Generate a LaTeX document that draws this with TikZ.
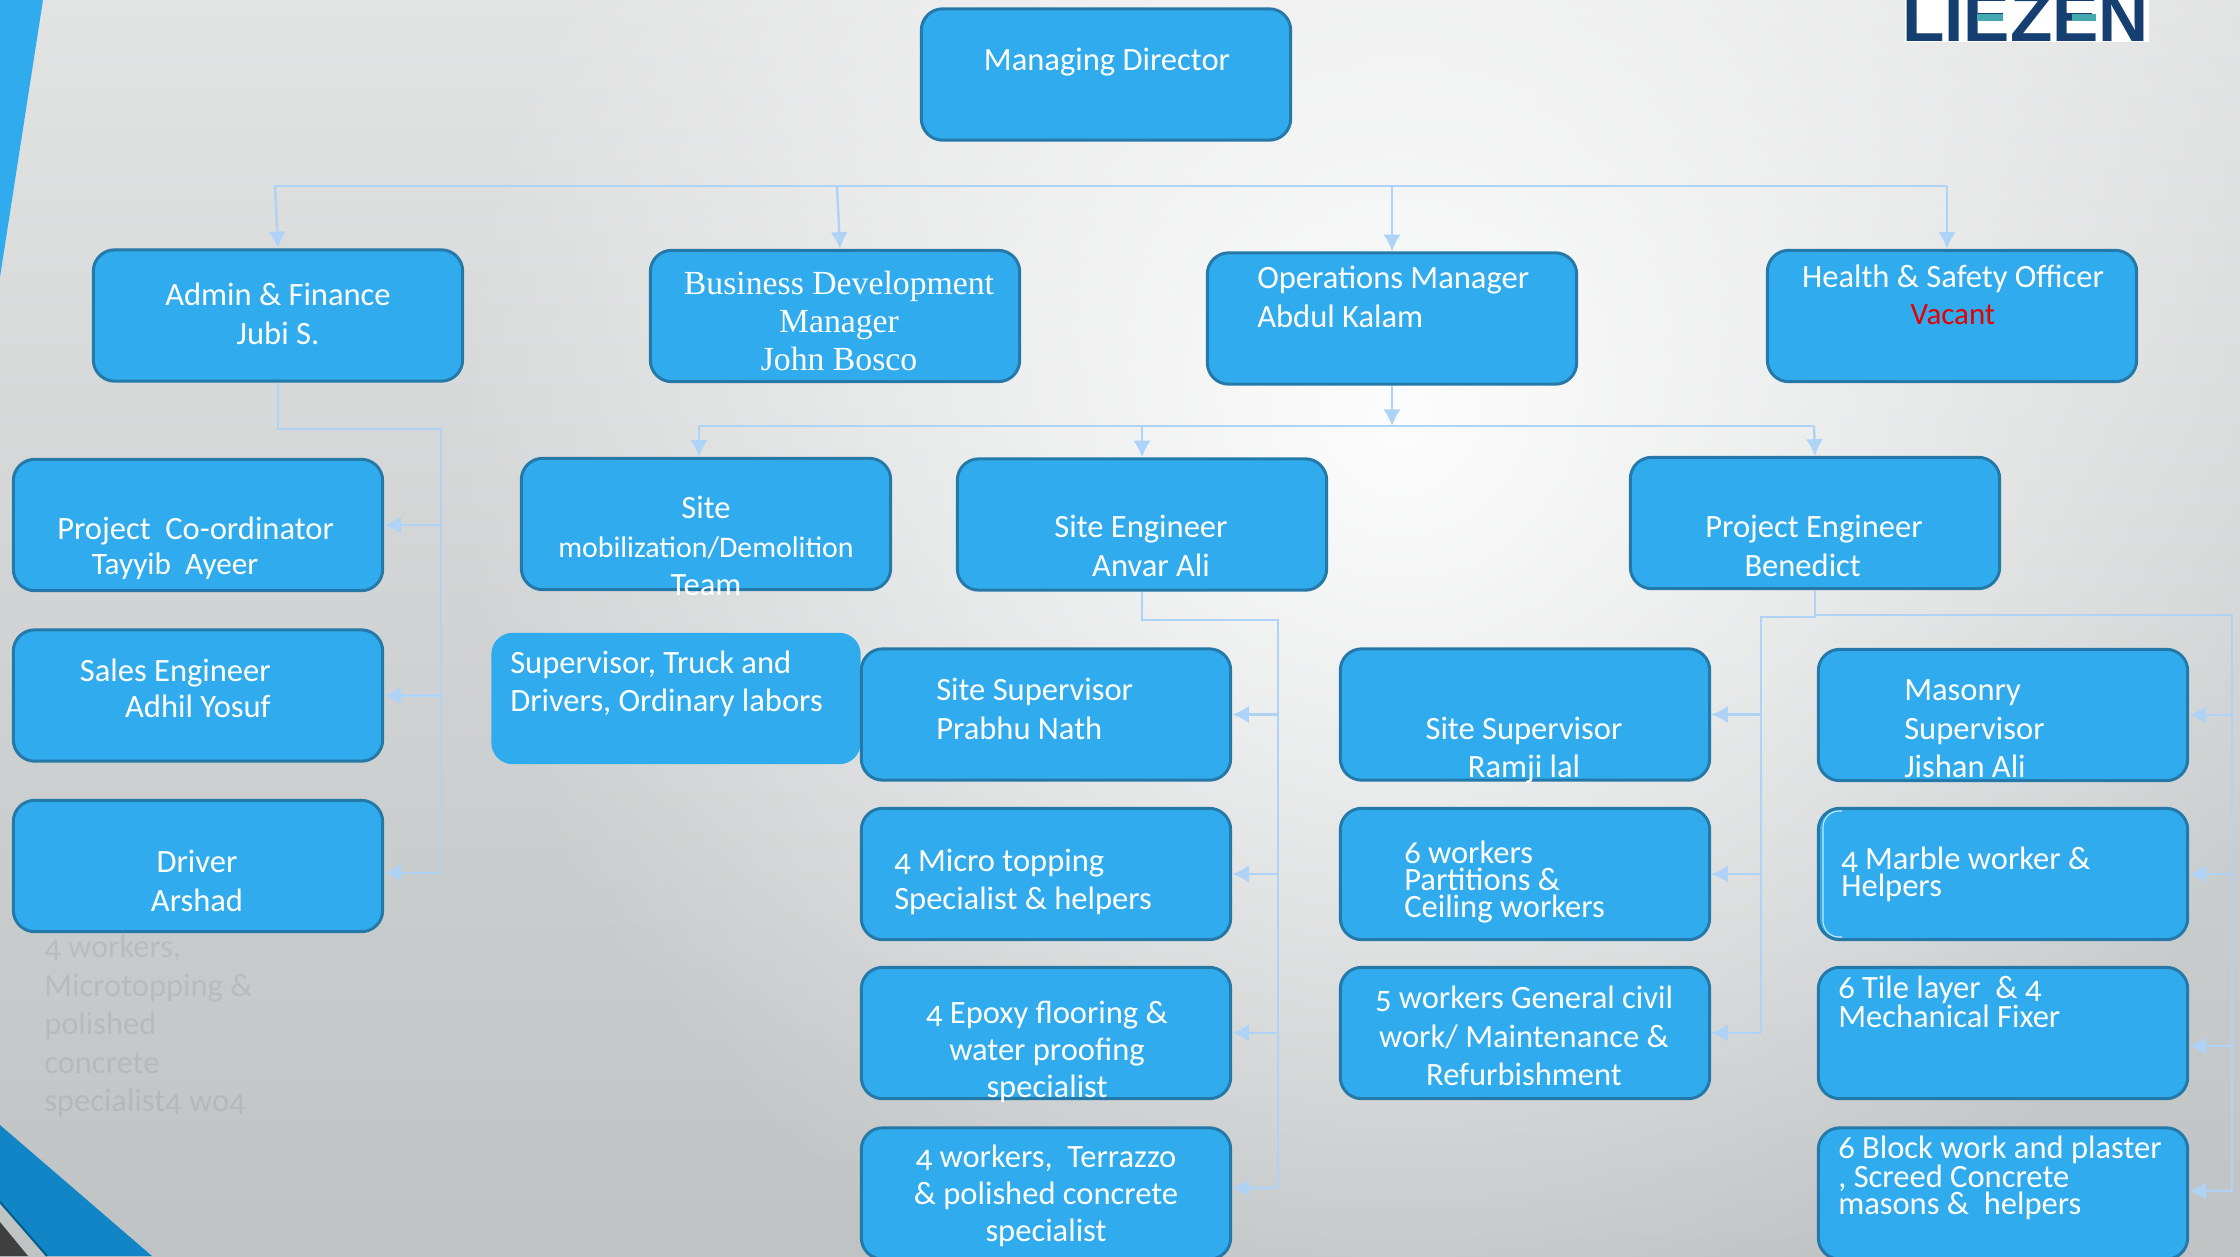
\documentclass[tikz,border=0pt]{standalone}
\usepackage{fontspec}
\setmainfont[Numbers=OldStyle]{Carlito}
\newfontfamily\bdfont{Liberation Serif}
\newfontfamily\logofont{Liberation Sans}
\usetikzlibrary{arrows.meta,fadings}

\definecolor{orgfill}{HTML}{30ACEE}
\definecolor{orgedge}{HTML}{2579A9}
\definecolor{orgwire}{HTML}{AED3F6}
\definecolor{cornerdark}{HTML}{1285C6}
\definecolor{cornerline}{HTML}{005D8C}
\definecolor{logonavy}{HTML}{143F70}
\definecolor{logoteal}{HTML}{45A9B0}
\definecolor{bgtop}{HTML}{E2E3E3}
\definecolor{bgmid}{HTML}{DADCDD}
\definecolor{bgbot}{HTML}{BFC3C4}

\tikzfading[name=glowfade,inner color=transparent!5,outer color=transparent!100]

\tikzset{
  orgbox/.style={draw=orgedge,fill=orgfill,line width=2.25pt,rounded corners=16pt,
    minimum width=277pt,minimum height=98.5pt},
  plainbox/.style={orgbox,draw=none},
  orgtext/.style={text=white,align=center,inner sep=0pt,
    font=\fontsize{24.4}{28.9}\selectfont},
  lefttext/.style={orgtext,align=left,anchor=west},
  tighttext/.style={lefttext,font=\fontsize{24.4}{20.2}\selectfont},
  orgline/.style={draw=orgwire,line width=1.5pt},
  orgarrow/.style={orgline,line width=1.8pt,-{Latex[length=12.5pt,width=13pt]}}
}

\begin{document}
\begin{tikzpicture}[x=0.75pt,y=-0.75pt]
  \useasboundingbox (0,0) rectangle (2240,1256);
  \clip (0,0) rectangle (2240,1256);

  % background
  \shade[top color=bgtop,middle color=bgmid,bottom color=bgbot] (0,0) rectangle (2240,1256);
  \fill[white,path fading=glowfade] (1400,420) circle (950);

  % corners
  \fill[orgfill] (0,0) -- (43,0) -- (0,277) -- cycle;
  \fill[cornerdark] (0,1125) -- (152,1256) -- (47,1256) -- (0,1202) -- cycle;
  \draw[cornerline,line width=1.5pt] (0,1202) -- (47,1256);
  \fill[black!75] (0,1222) -- (28,1256) -- (0,1256) -- cycle;

  % logo
  \fill[white] (1905,0) rectangle (2149,42);
  \begin{scope}
    \clip (1905,0) rectangle (2149,42);
    \node[anchor=base west,inner sep=0pt,text=logonavy,font=\logofont\bfseries\fontsize{52}{52}\selectfont] (logo) at (1902,42) {LIEZEN};
  \end{scope}
  \fill[logoteal] (1977,14) rectangle (2003,21);
  \fill[logoteal] (2072,14) rectangle (2096,21);

  % ghost text
  \node[lefttext,text=black,text opacity=0.07] (ghost) at (44,1026) {4 workers,\\Microtopping \&\\polished\\concrete\\specialist4 wo4};

  % boxes
  \node[orgbox] (md) at (1106,74.5) {};
  \node[orgbox] (admin) at (278,315.5) {};
  \node[orgbox] (bd) at (835,316) {};
  \node[orgbox] (ops) at (1392,318.5) {};
  \node[orgbox] (hs) at (1952,316) {};

  \node[orgbox] (coord) at (198,525) {};
  \node[orgbox] (sales) at (198,695.5) {};
  \node[orgbox] (driver) at (198,866) {};

  \node[orgbox] (mob) at (706,524) {};
  \node[plainbox] (truck) at (676,698.5) {};
  \node[orgbox] (eng) at (1142,524.5) {};
  \node[orgbox] (pe) at (1815,523) {};

  \node[orgbox] (prabhu) at (1046,714.5) {};
  \node[orgbox] (micro) at (1046,874) {};
  \node[orgbox] (epoxy) at (1046,1033) {};
  \node[orgbox] (terrazzo) at (1046,1193.5) {};

  \node[orgbox] (ramji) at (1525,714.5) {};
  \node[orgbox] (partition) at (1525,874) {};
  \node[orgbox] (civil) at (1525,1033) {};

  \node[orgbox] (masonry) at (2003,715) {};
  \node[orgbox] (marble) at (2003,874) {};
  \node[orgbox] (tile) at (2003,1033) {};
  \node[orgbox] (block) at (2003,1193.5) {};
  \draw[white!75!orgfill,line width=0.8pt,rounded corners=12pt] (1842,811) -- (1823,811) -- (1823,937) -- (1842,937);

  % labels
  \node[orgtext] (mdtxt) at (1107,62) {Managing Director};
  \node[orgtext] (admintxt) at (278,314) {Admin \& Finance\\Jubi S.};
  \node[orgtext,font=\bdfont\fontsize{25.3}{28.2}\selectfont] (bdtxt) at (839,321) {Business Development\\Manager\\John Bosco};
  \node[lefttext] (opstxt) at (1257,297) {Operations Manager\\Abdul Kalam};
  \node[orgtext] (hstxt) at (1953,295) {Health \& Safety Officer\\[-1.5pt]\textcolor{red!90!black}{\fontsize{23.2}{23.2}\selectfont Vacant}};

  \node[lefttext] (coordtxt) at (57,548) {Project\ \ Co-ordinator\\[-3pt]\hspace*{26pt}{\fontsize{23.4}{23.4}\selectfont Tayyib\ \ Ayeer}};
  \node[orgtext,align=right,anchor=east] (salestxt) at (271,688) {Sales Engineer\\[-2pt]Adhil Yosuf};
  \node[orgtext] (drivertxt) at (197,881) {Driver\\Arshad};

  \node[orgtext] (mobtxt) at (706,546) {Site\\{\fontsize{22.4}{22.4}\selectfont mobilization/Demolition}\\Team};
  \node[lefttext] (trucktxt) at (510,684) {Supervisor, Truck and\\Drivers, Ordinary labors};
  \node[orgtext] (engtxt) at (1141,546) {Site Engineer\\\hspace*{15pt}Anvar Ali};
  \node[orgtext] (petxt) at (1814,546) {Project Engineer\\Benedict\hspace*{17pt}};

  \node[lefttext] (prabhutxt) at (936,709) {Site Supervisor\\Prabhu Nath};
  \node[lefttext] (microtxt) at (894,882) {4 Micro topping\\Specialist \& helpers};
  \node[orgtext] (epoxytxt) at (1047,1052) {4 Epoxy flooring \&\\[-1pt]water proofing\\[-1pt]specialist};
  \node[orgtext] (terrazzotxt) at (1046,1196) {4 workers,\ \ Terrazzo\\[-1pt]\& polished concrete\\[-1pt]specialist};

  \node[orgtext] (ramjitxt) at (1524,750) {Site Supervisor\\Ramji lal};
  \node[tighttext] (partitiontxt) at (1404,882) {6 workers\\Partitions \&\\Ceiling workers};
  \node[orgtext] (civiltxt) at (1524,1036) {5 workers General civil\\work/ Maintenance \&\\Refurbishment};

  \node[lefttext] (masonrytxt) at (1904,729) {Masonry\\Supervisor\\Jishan Ali};
  \node[tighttext] (marbletxt) at (1841,874) {4 Marble worker \&\\Helpers};
  \node[tighttext] (tiletxt) at (1838,1002) {6 Tile layer\ \ \& 4\\Mechanical Fixer};
  \node[tighttext] (blocktxt) at (1838,1178) {6 Block work and plaster\\, Screed Concrete\\masons \&\ \ helpers};

  % top bus
  \coordinate (busl) at (275,186);
  \coordinate (busr) at (1947,186);
  \draw[orgline] (busl) -- (busr);
  \draw[orgarrow] (busl) -- (admin.north);
  \draw[orgarrow] (837,186) -- ([xshift=3.75pt]bd.north);
  \draw[orgarrow] (ops.north |- busl) -- (ops.north);
  \draw[orgarrow] (busr) -- ([xshift=-3.75pt]hs.north);

  % operations bus
  \coordinate (opsl) at (699,426);
  \coordinate (opsr) at (1814,426);
  \draw[orgarrow] (ops.south) -- (ops.south |- opsl);
  \draw[orgline] (opsl) -- (opsr);
  \draw[orgarrow] (opsl) -- ([xshift=-5.25pt]mob.north);
  \draw[orgarrow] (eng.north |- opsl) -- (eng.north);
  \draw[orgarrow] (opsr) -- (pe.north);

  % admin branch
  \coordinate (adminr) at (441,429);
  \coordinate (adminb) at (441,873);
  \draw[orgline] (admin.south) |- (adminr) -- (adminb);
  \draw[orgarrow] (coord.east -| adminr) -- (coord.east);
  \draw[orgarrow] (sales.east -| adminr) -- (sales.east);
  \draw[orgarrow] (adminb) -- ([yshift=-5.25pt]driver.east);

  % site engineer branch
  \coordinate (engr) at (1278,620);
  \coordinate (engb) at (1278,1188);
  \draw[orgline] (eng.south) |- (engr) -- (engb);
  \draw[orgarrow] (prabhu.east -| engr) -- (prabhu.east);
  \draw[orgarrow] (micro.east -| engr) -- (micro.east);
  \draw[orgarrow] (epoxy.east -| engr) -- (epoxy.east);
  \draw[orgarrow] (engb) -- ([yshift=4pt]terrazzo.east);

  % project engineer, left branch
  \coordinate (pel) at (1761,617);
  \coordinate (peb) at (1761,1033);
  \draw[orgline] (pe.south) |- (pel) -- (peb);
  \draw[orgarrow] (ramji.east -| pel) -- (ramji.east);
  \draw[orgarrow] (partition.east -| pel) -- (partition.east);
  \draw[orgarrow] (peb) -- (civil.east);

  % project engineer, right branch
  \coordinate (per) at (2232,615);
  \coordinate (pee) at (2232,1191);
  \draw[orgline] (pe.south) |- (per) -- (pee);
  \draw[orgarrow] (masonry.east -| per) -- (masonry.east);
  \draw[orgarrow] (marble.east -| per) -- (marble.east);
  \draw[orgarrow] ([yshift=-9.75pt]tile.east -| per) -- ([yshift=-9.75pt]tile.east);
  \draw[orgarrow] (pee) -- ([yshift=2pt]block.east);
\end{tikzpicture}
\end{document}
